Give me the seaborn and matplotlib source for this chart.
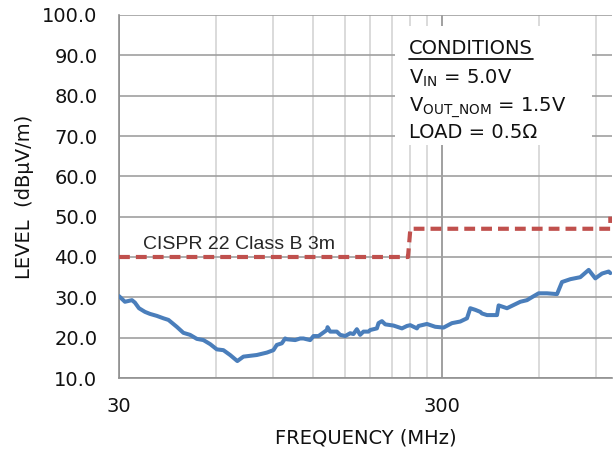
import matplotlib
matplotlib.use("Agg")
import matplotlib.pyplot as plt
import matplotlib.ticker as mticker
from matplotlib.patches import Rectangle
from matplotlib.lines import Line2D
import pandas as pd
import seaborn as sns

# radiated emission trace
freq_mhz = [30, 31.3, 32.9, 33.6, 34.6, 36.1, 37.4, 39.3, 41.2, 42.7, 45.3, 47.5,
            49.8, 52.3, 54.8, 57.5, 60.3, 63.2, 66.3, 69.8, 72.9, 80.2, 86.2,
            90.3, 92.5, 95.9, 98.2, 99.4, 105.5, 109.3, 111.9, 117.4, 120.2,
            124.6, 132.3, 132.9, 135.4, 142.0, 145.4, 150.7, 156.2, 159.9,
            163.8, 167.7, 171.7, 178.0, 180.2, 189.0, 191.2, 195.9, 200.6,
            212.8, 226, 234.2, 239.8, 251.5, 254.4, 270.1, 286.6, 304.1, 322.9,
            342.6, 359.5, 368.1, 381.4, 395.2, 400, 414.7, 434.7, 445.4, 450.6,
            478.3, 513.6, 526.0, 551.8, 564.9, 599.5, 636.3, 683.6, 708.3,
            751.7, 807.2, 856.7, 898.4, 942.6, 988.3, 1000]
level_dbuv = [30.3, 28.9, 29.3, 28.7, 27.3, 26.4, 25.9, 25.4, 24.8, 24.4, 22.7, 21.2,
              20.7, 19.7, 19.4, 18.4, 17.1, 16.9, 15.7, 14.2, 15.3, 15.7, 16.3,
              16.9, 18.2, 18.6, 19.8, 19.6, 19.4, 19.8, 19.8, 19.4, 20.4,
              20.4, 21.9, 22.6, 21.5, 21.5, 20.7, 20.4, 21.1, 20.9,
              22.1, 20.7, 21.5, 21.5, 21.9, 22.3, 23.6, 24.1, 23.3,
              23.0, 22.3, 22.9, 23.1, 22.3, 22.9, 23.4, 22.7, 22.5, 23.6,
              24.0, 24.8, 27.3, 26.9, 26.4, 26.0, 25.6, 25.6, 25.6, 28.0,
              27.3, 28.5, 28.9, 29.3, 29.8, 31.0, 31.0, 30.8, 33.8,
              34.5, 35.0, 36.8, 34.7, 35.9, 36.4, 36.0]

# CISPR 22 class B 3m limit
limit_freq = [30, 236, 240, 1000, 1000]
limit_level = [40, 40, 47, 47, 50]

y_ticks = [10, 20, 30, 40, 50, 60, 70, 80, 90, 100]
x_major = [30, 300]
x_major_labels = ["30", "300"]
x_minor = [60, 90, 120, 150, 180, 210, 240, 270, 600, 900]

conditions = ["CONDITIONS", r"V$_{\mathrm{IN}}$ = 5.0V",
              r"V$_{\mathrm{OUT\_NOM}}$ = 1.5V", "LOAD = 0.5Ω"]

sns.set_style("white")
plt.rcParams['font.family'] = ['DejaVu Sans']
plt.rcParams['mathtext.fontset'] = 'dejavusans'

fig = plt.figure(figsize=(6.13, 4.58), dpi=100)
ax = fig.add_axes([119 / 613, 80 / 458, 493 / 613, 363 / 458])
ax.set_xscale('log')

trace = pd.DataFrame({'freq': freq_mhz, 'level': level_dbuv})
limit = pd.DataFrame({'freq': limit_freq, 'level': limit_level})

sns.lineplot(data=limit, x='freq', y='level', ax=ax, color='#c0504d', lw=3,
             estimator=None, sort=False, zorder=3, dashes=False)
ax.lines[-1].set_dashes((2.6, 1.45))
sns.lineplot(data=trace, x='freq', y='level', ax=ax, color='#4a7ebb', lw=2.9,
             estimator=None, sort=False, zorder=4)

ax.set_xlim(30, 1012)
ax.set_ylim(10, 100)
ax.xaxis.set_major_locator(mticker.FixedLocator(x_major))
ax.xaxis.set_major_formatter(mticker.FixedFormatter(x_major_labels))
ax.xaxis.set_minor_locator(mticker.FixedLocator(x_minor))
ax.xaxis.set_minor_formatter(mticker.NullFormatter())
ax.set_yticks(y_ticks)
ax.yaxis.set_major_formatter(mticker.FormatStrFormatter('%.1f'))

ax.grid(True, which='major', axis='y', color='#a0a0a0', lw=1.2)
ax.grid(True, which='major', axis='x', color='#909090', lw=1.2)
ax.grid(True, which='minor', axis='x', color='#d4d4d4', lw=1.2)
ax.set_axisbelow(True)

for side in ['top', 'right']:
    ax.spines[side].set_visible(False)
for side in ['left', 'bottom']:
    ax.spines[side].set_color('#909090')
    ax.spines[side].set_linewidth(1.2)

ax.tick_params(axis='y', which='major', direction='out', length=4.5, width=1.2,
               color='#909090', labelsize=14, labelcolor='#111111', pad=11)
ax.tick_params(axis='x', which='major', direction='out', length=5, width=1.2,
               color='#909090', labelsize=14, labelcolor='#111111', pad=9)
ax.tick_params(axis='x', which='minor', length=0)

ax.set_xlabel('FREQUENCY (MHz)', fontsize=14, labelpad=9, color='#111111')
ax.set_ylabel('LEVEL  (dBµV/m)', fontsize=14, labelpad=6, color='#111111')

ax.text(0.0487, 0.355, 'CISPR 22 Class B 3m', transform=ax.transAxes,
        fontsize=14, family=['Liberation Sans'], va='baseline', zorder=5)

# conditions box
ax.add_patch(Rectangle((0.56, 0.642), 0.399, 0.328, transform=ax.transAxes,
                       facecolor='white', edgecolor='none', zorder=2.5))
for txt, yy in zip(conditions, [0.8926, 0.81, 0.7336, 0.660]):
    t = ax.text(0.588, yy, txt, transform=ax.transAxes, fontsize=14,
                va='baseline', zorder=5, color='#111111')
    if txt == "CONDITIONS":
        head = t

fig.canvas.draw()
bb = head.get_window_extent()
fig.add_artist(Line2D([bb.x0, bb.x1], [bb.y0 - 1.5, bb.y0 - 1.5], color='black',
                      lw=1.2, transform=None))

fig.savefig('out.png', dpi=100)
